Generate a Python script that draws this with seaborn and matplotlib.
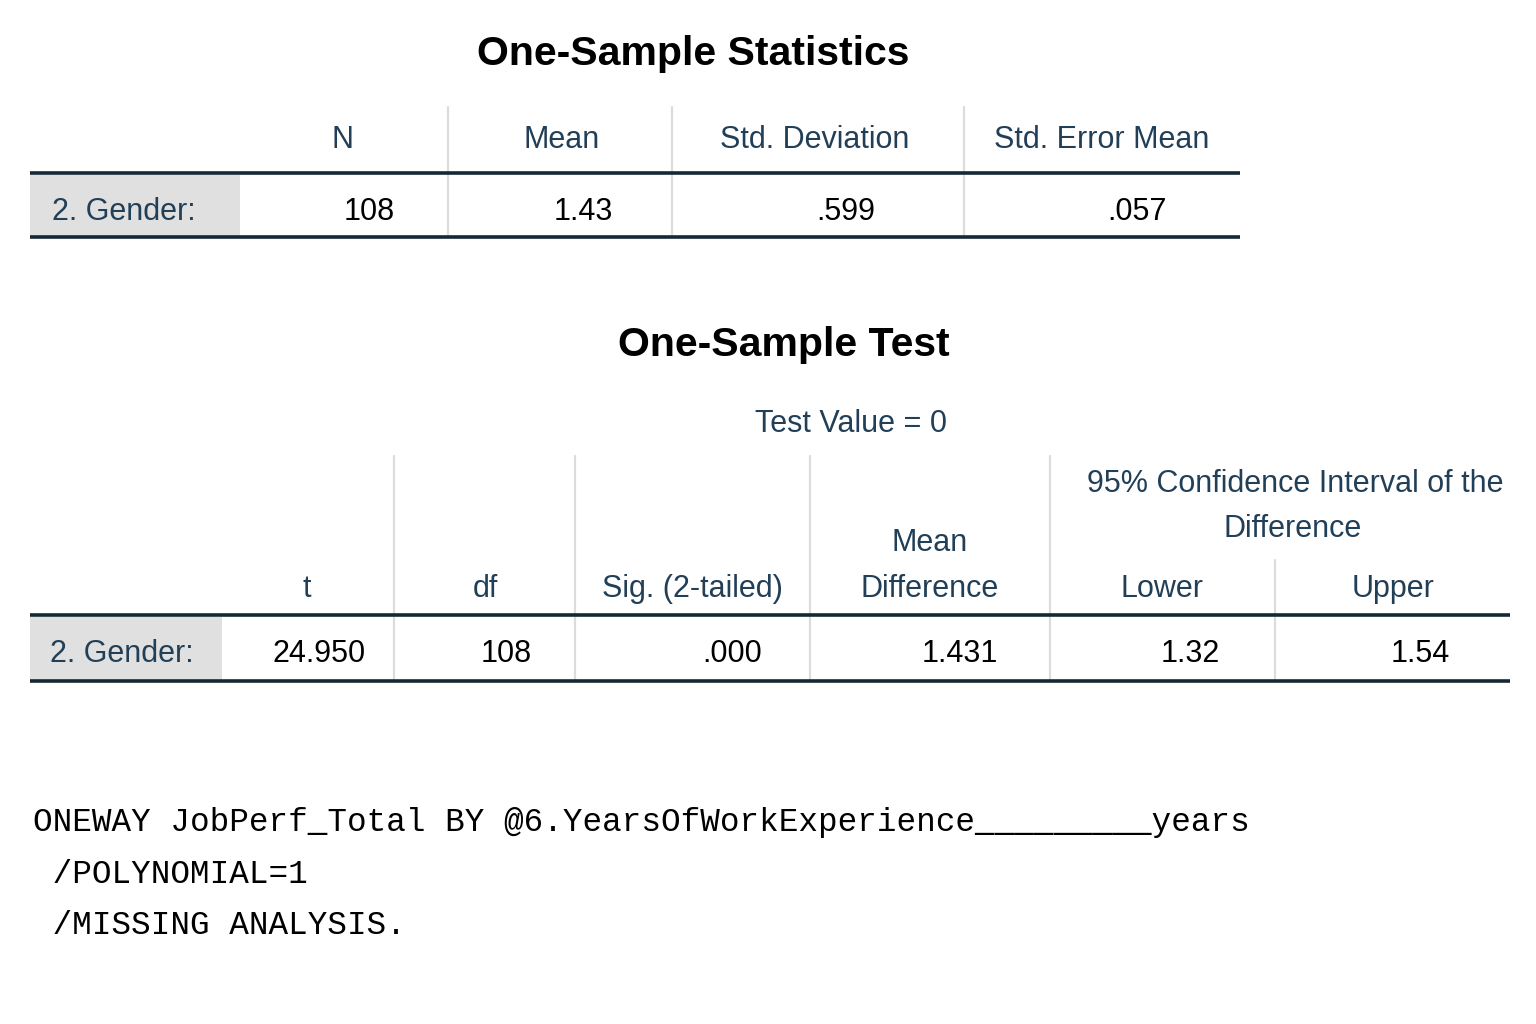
import matplotlib
matplotlib.use('Agg')
import matplotlib.pyplot as plt
import seaborn as sns

row_label = '2. Gender:'

stats_title = 'One-Sample Statistics'
stats_cols = ['N', 'Mean', 'Std. Deviation', 'Std. Error Mean']
stats_values = ['108', '1.43', '.599', '.057']

test_title = 'One-Sample Test'
test_value_label = 'Test Value = 0'
ci_label = ['95% Confidence Interval of the', 'Difference']
test_cols = ['t', 'df', 'Sig. (2-tailed)', ['Mean', 'Difference'], 'Lower', 'Upper']
test_values = ['24.950', '108', '.000', '1.431', '1.32', '1.54']

syntax_lines = [
    'ONEWAY JobPerf_Total BY @6.YearsOfWorkExperience_________years',
    ' /POLYNOMIAL=1',
    ' /MISSING ANALYSIS.',
]

# ---- style ----
sns.set_theme(style='white')
plt.rcParams['font.family'] = ['Liberation Sans', 'DejaVu Sans']

HEAD = '#223f58'
RULE = '#152935'
GRID = '#dcdcdc'
LABEL_BG = '#e0e0e0'
FS = 22.0      # table text, pt
FS_T = 29.5    # titles
FS_M = 23.5    # syntax (monospace)

fig = plt.figure(figsize=(15.36, 10.24), dpi=100)
ax = fig.add_axes([0, 0, 1, 1])
ax.set_xlim(0, 1536)
ax.set_ylim(1024, 0)
ax.axis('off')

CAP = 11.0  # half cap height in px for FS


def txt(x, y, s, ha='center', color=HEAD, size=FS, weight='normal', half=CAP, family=None):
    kw = {}
    if family:
        kw['family'] = family
    ax.text(x, y + half, s, ha=ha, va='baseline', color=color, fontsize=size,
            fontweight=weight, **kw)


# ================= One-Sample Statistics =================
txt(693, 50, stats_title, color='black', size=FS_T, weight='bold', half=14.7)

t1_left, t1_right = 30, 1240
t1_seps = [448, 672, 964]
ax.add_patch(plt.Rectangle((t1_left, 175), 240 - t1_left, 61, color=LABEL_BG, lw=0, zorder=0))
for x in t1_seps:
    ax.plot([x, x], [107, 236], color=GRID, lw=1.6, zorder=1)
for y in [173, 237]:
    ax.plot([t1_left, t1_right], [y, y], color=RULE, lw=2.6, zorder=2, solid_capstyle='butt')

head_x1 = [343, 562, 815, 1102]
val_x1 = [395, 613, 875, 1167]
for x, s in zip(head_x1, stats_cols):
    txt(x, 137, s)
txt(52, 209, row_label, ha='left')
for x, s in zip(val_x1, stats_values):
    txt(x, 209, s, ha='right', color='black')

# ================= One-Sample Test =================
txt(784, 341, test_title, color='black', size=FS_T, weight='bold', half=14.7)
txt(851, 421, test_value_label)

t2_left, t2_right = 30, 1510
t2_seps = [394, 575, 810, 1050]
ax.add_patch(plt.Rectangle((t2_left, 617), 222 - t2_left, 63, color=LABEL_BG, lw=0, zorder=0))
for x in t2_seps:
    ax.plot([x, x], [456, 680], color=GRID, lw=1.6, zorder=1)
ax.plot([1275, 1275], [560, 680], color=GRID, lw=1.6, zorder=1)
for y in [615, 681]:
    ax.plot([t2_left, t2_right], [y, y], color=RULE, lw=2.6, zorder=2, solid_capstyle='butt')

txt(1295, 481, ci_label[0])
txt(1293, 526, ci_label[1])

head_x2 = [307, 485, 692, 930, 1162, 1393]
val_x2 = [366, 532, 762, 998, 1220, 1450]
for x, s in zip(head_x2, test_cols):
    if isinstance(s, list):
        txt(x, 540, s[0])
        txt(x, 586, s[1])
    else:
        txt(x, 586, s)
txt(50, 651, row_label, ha='left')
for x, s in zip(val_x2, test_values):
    txt(x, 651, s, ha='right', color='black')

# ================= syntax =================
for i, line in enumerate(syntax_lines):
    txt(33, 822 + i * 51.5, line, ha='left', color='black', size=FS_M, half=9.3,
        family=['Liberation Mono', 'DejaVu Sans Mono'])

fig.savefig('out.png', dpi=100, facecolor='white')
